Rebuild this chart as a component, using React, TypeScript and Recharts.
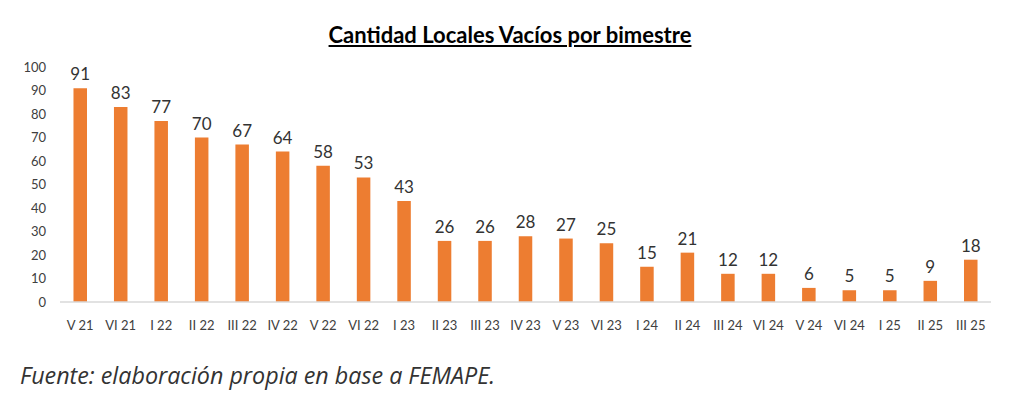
import { BarChart, Bar, XAxis, YAxis, LabelList } from "recharts"

const periods = [
  "V 21", "VI 21", "I 22", "II 22", "III 22", "IV 22", "V 22", "VI 22",
  "I 23", "II 23", "III 23", "IV 23", "V 23", "VI 23", "I 24", "II 24",
  "III 24", "VI 24", "V 24", "VI 24", "I 25", "II 25", "III 25",
]
const emptyStores = [
  91, 83, 77, 70, 67, 64, 58, 53, 43, 26, 26, 28, 27, 25, 15, 21, 12, 12, 6, 5, 5, 9, 18,
]
const yTicks = [0, 10, 20, 30, 40, 50, 60, 70, 80, 90, 100]

const data = periods.map((p, i) => ({ period: p, value: emptyStores[i] }))

const font = "Lato, 'Liberation Sans', sans-serif"

export default function App() {
  return (
    <div style={{ position: "absolute", left: 0, top: 0, width: 1033, height: 395, background: "#fff", fontFamily: font }}>
      <div
        style={{
          position: "absolute", top: 21, left: 0, width: 1020, textAlign: "center",
          fontSize: 22, fontWeight: 700, textDecoration: "underline", color: "#000",
        }}
      >
        Cantidad Locales Vacíos por bimestre
      </div>
      <BarChart
        width={1033}
        height={395}
        data={data}
        margin={{ top: 67, right: 42, bottom: 63, left: 0 }}
        barCategoryGap={27}
      >
        <XAxis
          dataKey="period"
          allowDuplicatedCategory
          tickLine={false}
          axisLine={{ stroke: "#d9d9d9", strokeWidth: 1.5 }}
          tick={{ fill: "#404040", fontSize: 13, fontFamily: font }}
          interval={0}
          tickMargin={13}
          height={30}
        />
        <YAxis
          domain={[0, 100]}
          ticks={yTicks}
          width={60}
          axisLine={false}
          tickLine={false}
          tick={{ fill: "#404040", fontSize: 13, fontFamily: font }}
          tickMargin={8}
        />
        <Bar dataKey="value" fill="#ED7D31" isAnimationActive={false}>
          <LabelList
            dataKey="value"
            position="top"
            offset={8}
            style={{ fill: "#333", fontSize: 17, fontFamily: font }}
          />
        </Bar>
      </BarChart>
      <div
        style={{
          position: "absolute", top: 359, left: 20, fontSize: 23.3, fontStyle: "italic",
          color: "#333", fontFamily: "'Open Sans', 'Noto Sans', sans-serif",
        }}
      >
        Fuente: elaboración propia en base a FEMAPE.
      </div>
    </div>
  )
}
